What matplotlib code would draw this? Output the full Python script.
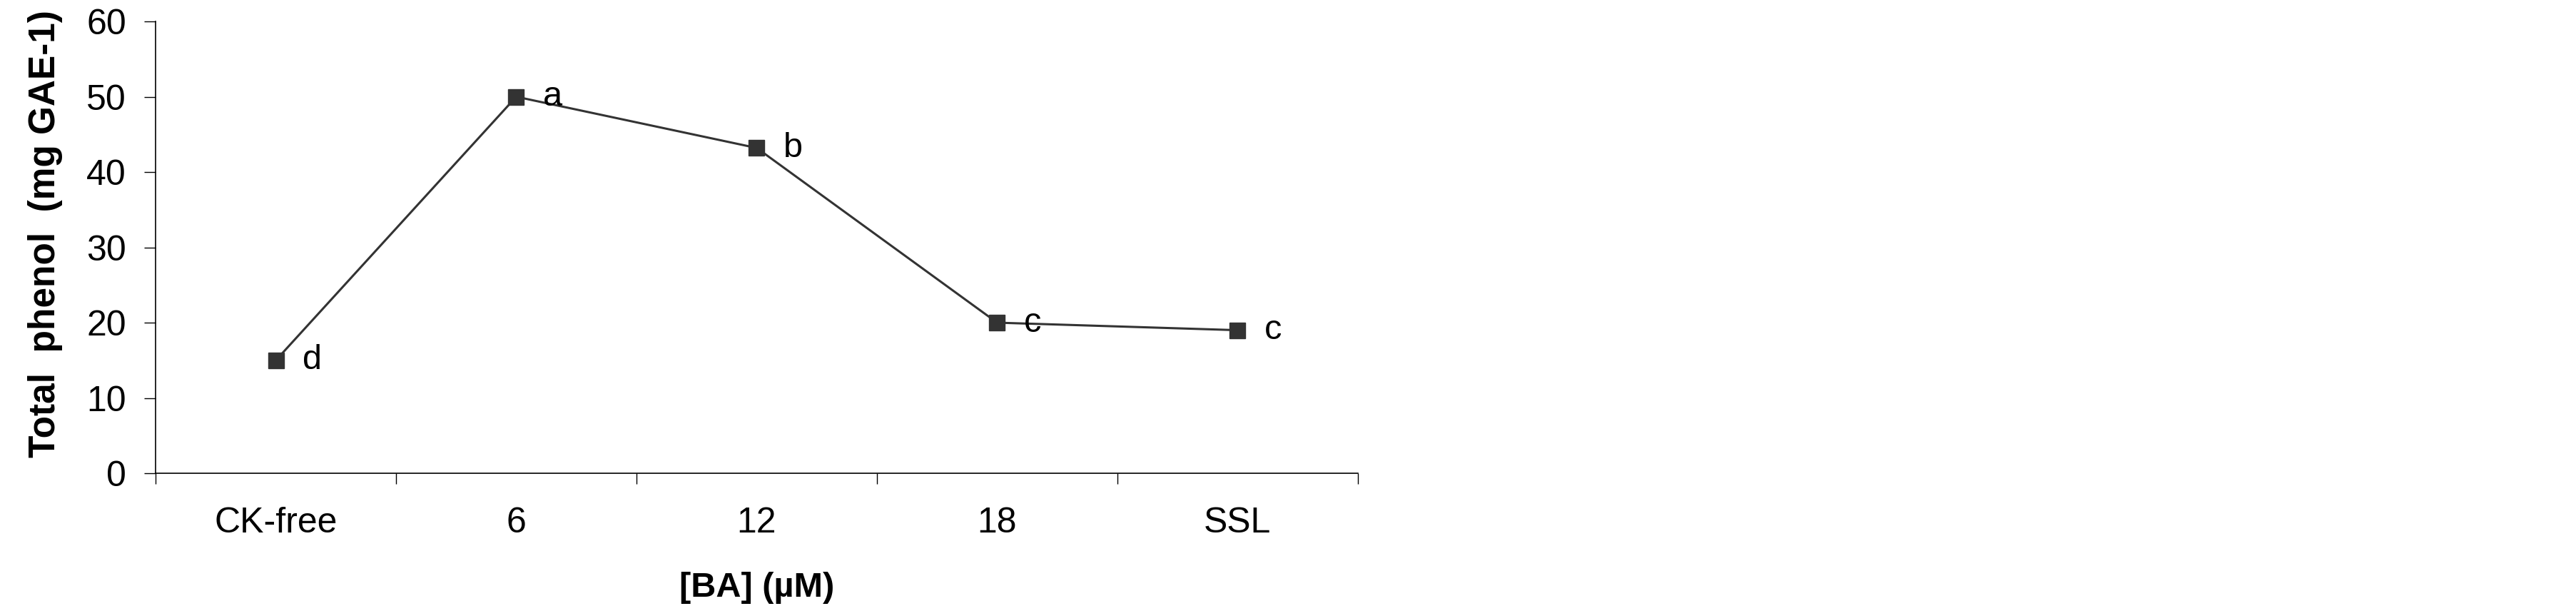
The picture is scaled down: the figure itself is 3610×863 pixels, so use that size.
import matplotlib
matplotlib.use("Agg")
import matplotlib.pyplot as plt

plt.rcParams['font.family'] = ['Liberation Sans', 'DejaVu Sans']

# data
treatments = ["CK-free", "6", "12", "18", "SSL"]
total_phenol = [15, 50, 43.2, 20, 19]
letters = ["d", "a", "b", "c", "c"]

clr = "#333333"

fig = plt.figure(figsize=(36.10, 8.63), dpi=100)
ax = fig.add_axes([0.0604, 0.2317, 0.4667, 0.7335])

x = list(range(len(treatments)))
ax.plot(x, total_phenol, '-', color=clr, linewidth=2.2,
        marker='s', markersize=16.5, markerfacecolor=clr, markeredgecolor=clr)

for xi, yi, lab in zip(x, total_phenol, letters):
    ax.annotate(lab, (xi, yi), xytext=(27, 0), textcoords='offset points',
                ha='left', va='center', fontsize=35)

ax.set_xlim(-0.5, len(treatments) - 0.5)
ax.set_ylim(0, 60)
ax.set_yticks(range(0, 61, 10))

# ticks at category boundaries, labels at centres
ax.set_xticks([i - 0.5 for i in range(len(treatments) + 1)])
ax.set_xticklabels([])
ax.set_xticks(x, minor=True)
ax.set_xticklabels(treatments, minor=True)

ax.tick_params(axis='x', which='major', direction='out', length=11, width=1)
ax.tick_params(axis='x', which='minor', length=0, pad=34, labelsize=36)
ax.tick_params(axis='y', direction='out', length=11.5, width=1, pad=18, labelsize=36)

for side in ['top', 'right']:
    ax.spines[side].set_visible(False)
for side in ['left', 'bottom']:
    ax.spines[side].set_linewidth(1.2)
    ax.spines[side].set_color('black')

ax.set_xlabel("[BA] (µM)", fontsize=35, fontweight='bold', labelpad=32)
ax.set_ylabel("Total  phenol  (mg GAE-1)", fontsize=37, fontweight='bold', labelpad=24)
ax.yaxis.label.set_y(0.53)

fig.savefig("out.png", dpi=100, facecolor='white')
